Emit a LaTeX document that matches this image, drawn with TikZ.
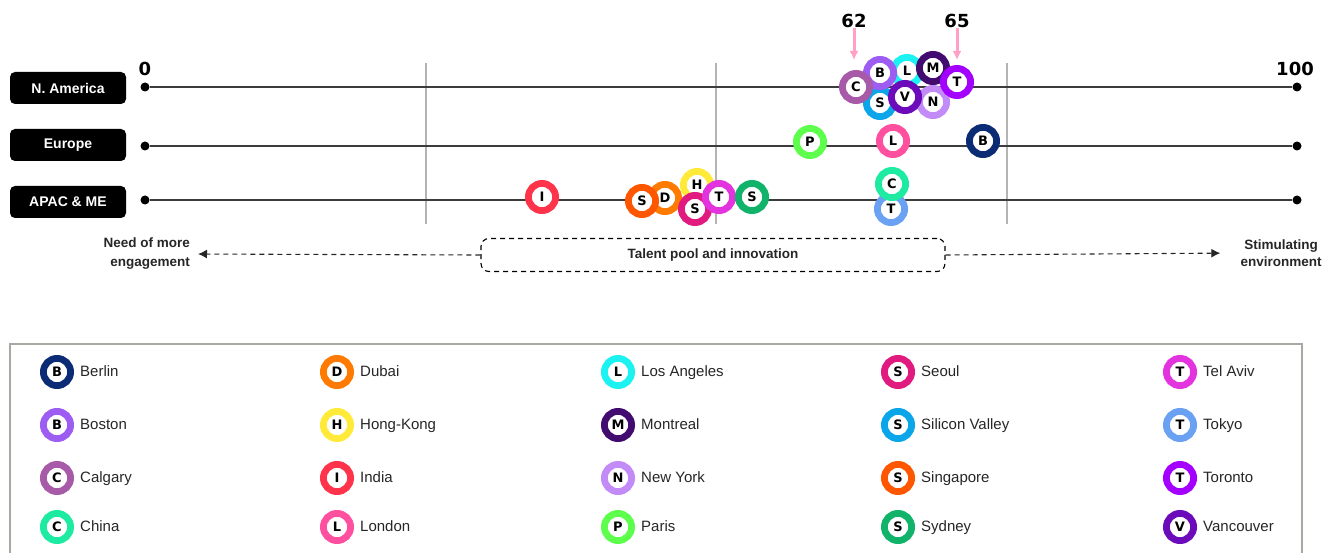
\documentclass[tikz,border=0pt]{standalone}
\usepackage{fontspec}
\setmainfont{Liberation Sans}
\newfontfamily\heavyfont{DejaVu Sans}
\usepackage{xcolor}
\usetikzlibrary{positioning, arrows.meta}

\definecolor{cBerlin}{HTML}{0B2C74}
\definecolor{cBoston}{HTML}{9D5CF2}
\definecolor{cCalgary}{HTML}{A75AA8}
\definecolor{cChina}{HTML}{1EEBA2}
\definecolor{cDubai}{HTML}{FF7A00}
\definecolor{cHongKong}{HTML}{FFEA3A}
\definecolor{cIndia}{HTML}{FF3349}
\definecolor{cLondon}{HTML}{FF50A0}
\definecolor{cLosAngeles}{HTML}{1CF2F2}
\definecolor{cMontreal}{HTML}{420B70}
\definecolor{cNewYork}{HTML}{C28BF8}
\definecolor{cParis}{HTML}{5EFF4C}
\definecolor{cSeoul}{HTML}{E01A7E}
\definecolor{cSiliconValley}{HTML}{0BA6EA}
\definecolor{cSingapore}{HTML}{FF5600}
\definecolor{cSydney}{HTML}{11B36B}
\definecolor{cTelAviv}{HTML}{E233DF}
\definecolor{cTokyo}{HTML}{6AA1F2}
\definecolor{cToronto}{HTML}{A300FF}
\definecolor{cVancouver}{HTML}{6C0BB9}
\definecolor{axisgray}{HTML}{3C3C3C}
\definecolor{gridgray}{HTML}{B4B4B4}
\definecolor{framegray}{HTML}{A9A9A3}
\definecolor{pinkarrow}{HTML}{FFA0C6}

\tikzstyle{arrow} = [-{Latex[length=9pt,width=9pt]}]
\tikzstyle{city} = [circle, fill=white, line width=6.8pt, minimum size=27.2pt, inner sep=0pt, font=\heavyfont\bfseries\fontsize{13}{13}\selectfont]
\tikzstyle{region} = [fill=black, rounded corners=5pt, text=white, minimum width=116pt, minimum height=32pt, inner sep=0pt, font=\bfseries\fontsize{14}{14}\selectfont]
\tikzstyle{enddot} = [circle, fill=black, minimum size=9pt, inner sep=0pt]
\tikzstyle{scale num} = [font=\heavyfont\bfseries\fontsize{18}{18}\selectfont, inner sep=0pt]
\tikzstyle{axisline} = [draw=axisgray, line width=1.6pt]
\tikzstyle{legtext} = [font=\fontsize{15}{15}\selectfont, inner sep=0pt, text height=11pt, text depth=3pt, text=black!85]
\tikzstyle{note} = [font=\bfseries\fontsize{13.5}{19}\selectfont, inner sep=0pt, text=black!85]

\begin{document}
\begin{tikzpicture}[x=1pt, y=-1pt, node distance=53pt]
	\useasboundingbox (0,0) rectangle (1333,553);

	% grid
	\draw [gridgray, line width=1.3pt] (426,63) -- (426,224);
	\draw [gridgray, line width=1.3pt] (716,63) -- (716,224);
	\draw [gridgray, line width=1.3pt] (1007,63) -- (1007,224);

	% regions and axes
	\node (naBox) [region] at (68,88) {N. America};
	\node (euBox) [region] at (68,145) {Europe};
	\node (apBox) [region] at (68,202) {APAC \& ME};

	\node (naL) [enddot] at (145,87) {};
	\node (naR) [enddot] at (1297,87) {};
	\node (euL) [enddot] at (145,146) {};
	\node (euR) [enddot] at (1297,146) {};
	\node (apL) [enddot] at (145,200) {};
	\node (apR) [enddot] at (1297,200) {};
	\draw [axisline] (naL) -- (naR);
	\draw [axisline] (euL) -- (euR);
	\draw [axisline] (apL) -- (apR);

	\node (zero) [scale num] at (145,69) {0};
	\node (hundred) [scale num] at (1295,69) {100};

	% markers 62 / 65
	\node (n62) [scale num] at (854,21) {62};
	\node (n65) [scale num] at (957,21) {65};
	\coordinate (n62tip) at (854,60);
	\coordinate (n65tip) at (957,60);
	\draw [arrow, pinkarrow, line width=3pt] (n62) -- (n62tip);
	\draw [arrow, pinkarrow, line width=3pt] (n65) -- (n65tip);

	% N. America
	\node (naLA) [city, draw=cLosAngeles] at (907,71) {L};
	\node (naSV) [city, draw=cSiliconValley] at (880,103) {S};
	\node (naNY) [city, draw=cNewYork] at (933,102) {N};
	\node (naBos) [city, draw=cBoston] at (880,73) {B};
	\node (naMon) [city, draw=cMontreal] at (933,68) {M};
	\node (naCal) [city, draw=cCalgary] at (856,87) {C};
	\node (naVan) [city, draw=cVancouver] at (905,97) {V};
	\node (naTor) [city, draw=cToronto] at (957,82) {T};

	% Europe
	\node (euPar) [city, draw=cParis] at (810,142) {P};
	\node (euLon) [city, draw=cLondon] at (893,141) {L};
	\node (euBer) [city, draw=cBerlin] at (983,141) {B};

	% APAC & ME
	\node (apInd) [city, draw=cIndia] at (542,197) {I};
	\node (apHK) [city, draw=cHongKong] at (697,185) {H};
	\node (apDub) [city, draw=cDubai] at (665,198) {D};
	\node (apSin) [city, draw=cSingapore] at (642,201) {S};
	\node (apSeo) [city, draw=cSeoul] at (695,209) {S};
	\node (apTA) [city, draw=cTelAviv] at (719,197) {T};
	\node (apSyd) [city, draw=cSydney] at (752,197) {S};
	\node (apTok) [city, draw=cTokyo] at (891,209) {T};
	\node (apChi) [city, draw=cChina] at (892,184) {C};

	% scale meaning
	\node (need) [note, align=right, anchor=east] at (190,254) {Need of more\\engagement};
	\node (talent) [note, draw, line width=1.1pt, dash pattern=on 5pt off 4pt, rounded corners=8pt, minimum width=464pt, minimum height=33pt] at (713,255) {Talent pool and innovation};
	\node (stim) [note, align=center, font=\bfseries\fontsize{13.5}{17}\selectfont] at (1281,253) {Stimulating\\environment};
	\draw [arrow, black!85, line width=1.1pt, dash pattern=on 5pt off 4pt, shorten >=8pt] (talent.west) -- (need.east);
	\draw [arrow, black!85, line width=1.1pt, dash pattern=on 5pt off 4pt, shorten >=20pt] (talent.east) -- (stim.west);

	% legend
	\draw [framegray, line width=1.5pt] (10,556) |- (1302,344) -- (1302,556);

	\node (lgBerlin) [city, draw=cBerlin] at (57,372) {B};
	\node (lgBoston) [city, draw=cBoston, below of=lgBerlin] {B};
	\node (lgCalgary) [city, draw=cCalgary, below of=lgBoston] {C};
	\node (lgChina) [city, draw=cChina, below of=lgCalgary, yshift=4pt] {C};

	\node (lgDubai) [city, draw=cDubai] at (337,372) {D};
	\node (lgHongKong) [city, draw=cHongKong, below of=lgDubai] {H};
	\node (lgIndia) [city, draw=cIndia, below of=lgHongKong] {I};
	\node (lgLondon) [city, draw=cLondon, below of=lgIndia, yshift=4pt] {L};

	\node (lgLosAngeles) [city, draw=cLosAngeles] at (618,372) {L};
	\node (lgMontreal) [city, draw=cMontreal, below of=lgLosAngeles] {M};
	\node (lgNewYork) [city, draw=cNewYork, below of=lgMontreal] {N};
	\node (lgParis) [city, draw=cParis, below of=lgNewYork, yshift=4pt] {P};

	\node (lgSeoul) [city, draw=cSeoul] at (898,372) {S};
	\node (lgSiliconValley) [city, draw=cSiliconValley, below of=lgSeoul] {S};
	\node (lgSingapore) [city, draw=cSingapore, below of=lgSiliconValley] {S};
	\node (lgSydney) [city, draw=cSydney, below of=lgSingapore, yshift=4pt] {S};

	\node (lgTelAviv) [city, draw=cTelAviv] at (1180,372) {T};
	\node (lgTokyo) [city, draw=cTokyo, below of=lgTelAviv] {T};
	\node (lgToronto) [city, draw=cToronto, below of=lgTokyo] {T};
	\node (lgVancouver) [city, draw=cVancouver, below of=lgToronto, yshift=4pt] {V};

	\node (lgBerlinT) [legtext, right=6pt of lgBerlin] {Berlin};
	\node (lgBostonT) [legtext, right=6pt of lgBoston] {Boston};
	\node (lgCalgaryT) [legtext, right=6pt of lgCalgary] {Calgary};
	\node (lgChinaT) [legtext, right=6pt of lgChina] {China};
	\node (lgDubaiT) [legtext, right=6pt of lgDubai] {Dubai};
	\node (lgHongKongT) [legtext, right=6pt of lgHongKong] {Hong-Kong};
	\node (lgIndiaT) [legtext, right=6pt of lgIndia] {India};
	\node (lgLondonT) [legtext, right=6pt of lgLondon] {London};
	\node (lgLosAngelesT) [legtext, right=6pt of lgLosAngeles] {Los Angeles};
	\node (lgMontrealT) [legtext, right=6pt of lgMontreal] {Montreal};
	\node (lgNewYorkT) [legtext, right=6pt of lgNewYork] {New York};
	\node (lgParisT) [legtext, right=6pt of lgParis] {Paris};
	\node (lgSeoulT) [legtext, right=6pt of lgSeoul] {Seoul};
	\node (lgSiliconValleyT) [legtext, right=6pt of lgSiliconValley] {Silicon Valley};
	\node (lgSingaporeT) [legtext, right=6pt of lgSingapore] {Singapore};
	\node (lgSydneyT) [legtext, right=6pt of lgSydney] {Sydney};
	\node (lgTelAvivT) [legtext, right=6pt of lgTelAviv] {Tel Aviv};
	\node (lgTokyoT) [legtext, right=6pt of lgTokyo] {Tokyo};
	\node (lgTorontoT) [legtext, right=6pt of lgToronto] {Toronto};
	\node (lgVancouverT) [legtext, right=6pt of lgVancouver] {Vancouver};
\end{tikzpicture}
\end{document}
